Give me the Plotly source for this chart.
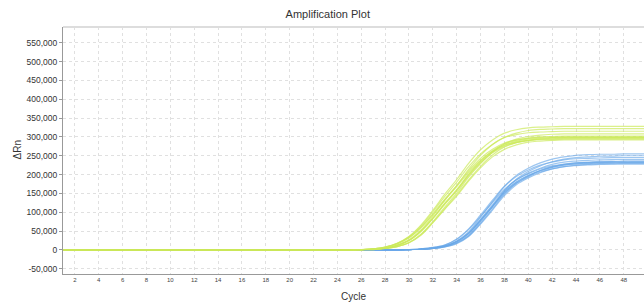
import plotly.graph_objects as go

cycles = list(range(1, 51))

green_1 = [0, 0, 0, 0, 0, 0, 0, 0, 0, 0, 0, 0, 0, 0, 0, 0, 0, 0, 0, 0, 0, 0, 0, 0, 0,
           1000, 3000, 8000, 18000, 36000, 66000, 105000, 148000, 187000, 230000, 266000, 292000, 310000, 319000, 324000, 326000, 327000,
           328000, 328000, 328000, 328000, 328000, 328000, 328000, 328000]
green_2 = [0, 0, 0, 0, 0, 0, 0, 0, 0, 0, 0, 0, 0, 0, 0, 0, 0, 0, 0, 0, 0, 0, 0, 0, 0,
           1000, 2000, 5000, 13000, 27000, 53000, 90000, 132000, 171000, 214000, 251000, 280000, 299000, 310000, 317000, 320000, 321000,
           322000, 322000, 322000, 322000, 322000, 322000, 322000, 322000]
green_3 = [0, 0, 0, 0, 0, 0, 0, 0, 0, 0, 0, 0, 0, 0, 0, 0, 0, 0, 0, 0, 0, 0, 0, 0, 0,
           1000, 3000, 8000, 17000, 35000, 63000, 101000, 142000, 180000, 221000, 255000, 280000, 298000, 306000, 311000, 313000, 314000,
           315000, 315000, 315000, 315000, 315000, 315000, 315000, 315000]
green_4 = [0, 0, 0, 0, 0, 0, 0, 0, 0, 0, 0, 0, 0, 0, 0, 0, 0, 0, 0, 0, 0, 0, 0, 0, 0,
           1000, 2000, 4000, 9000, 20000, 42000, 75000, 114000, 151000, 193000, 229000, 260000, 282000, 294000, 301000, 305000, 307000,
           308000, 308000, 308000, 308000, 308000, 308000, 308000, 308000]
green_5 = [0, 0, 0, 0, 0, 0, 0, 0, 0, 0, 0, 0, 0, 0, 0, 0, 0, 0, 0, 0, 0, 0, 0, 0, 0,
           1000, 2000, 5000, 12000, 25000, 50000, 85000, 124000, 160000, 201000, 236000, 263000, 281000, 291000, 297000, 300000, 301000,
           302000, 302000, 302000, 302000, 302000, 302000, 302000, 302000]
green_6 = [0, 0, 0, 0, 0, 0, 0, 0, 0, 0, 0, 0, 0, 0, 0, 0, 0, 0, 0, 0, 0, 0, 0, 0, 0,
           1000, 3000, 7000, 17000, 33000, 60000, 96000, 135000, 171000, 210000, 243000, 267000, 284000, 292000, 296000, 299000, 299000,
           300000, 300000, 300000, 300000, 300000, 300000, 300000, 300000]
green_7 = [0, 0, 0, 0, 0, 0, 0, 0, 0, 0, 0, 0, 0, 0, 0, 0, 0, 0, 0, 0, 0, 0, 0, 0, 0,
           1000, 1000, 4000, 9000, 19000, 40000, 73000, 110000, 146000, 186000, 222000, 252000, 273000, 285000, 291000, 295000, 297000,
           298000, 298000, 298000, 298000, 298000, 298000, 298000, 298000]
green_8 = [0, 0, 0, 0, 0, 0, 0, 0, 0, 0, 0, 0, 0, 0, 0, 0, 0, 0, 0, 0, 0, 0, 0, 0, 0,
           1000, 2000, 5000, 12000, 25000, 49000, 83000, 121000, 157000, 197000, 231000, 258000, 275000, 285000, 291000, 294000, 295000,
           296000, 296000, 296000, 296000, 296000, 296000, 296000, 296000]
green_9 = [0, 0, 0, 0, 0, 0, 0, 0, 0, 0, 0, 0, 0, 0, 0, 0, 0, 0, 0, 0, 0, 0, 0, 0, 0,
           1000, 3000, 7000, 16000, 32000, 59000, 94000, 132000, 168000, 206000, 238000, 262000, 278000, 286000, 290000, 293000, 293000,
           294000, 294000, 294000, 294000, 294000, 294000, 294000, 294000]
green_10 = [0, 0, 0, 0, 0, 0, 0, 0, 0, 0, 0, 0, 0, 0, 0, 0, 0, 0, 0, 0, 0, 0, 0, 0, 0,
            1000, 1000, 4000, 9000, 19000, 39000, 72000, 108000, 143000, 183000, 218000, 247000, 267000, 279000, 286000, 289000, 291000,
            292000, 292000, 292000, 292000, 292000, 292000, 292000, 292000]
green_11 = [0, 0, 0, 0, 0, 0, 0, 0, 0, 0, 0, 0, 0, 0, 0, 0, 0, 0, 0, 0, 0, 0, 0, 0, 0,
            1000, 2000, 5000, 12000, 25000, 50000, 84000, 123000, 158000, 199000, 233000, 260000, 278000, 288000, 294000, 297000, 298000,
            299000, 299000, 299000, 299000, 299000, 299000, 299000, 299000]

blue_1 = [0, 0, 0, 0, 0, 0, 0, 0, 0, 0, 0, 0, 0, 0, 0, 0, 0, 0, 0, 0, 0, 0, 0, 0, 0, 0, 0, 0, 0,
          1000, 2000, 5000, 11000, 24000, 48000, 87000, 128000, 168000, 198000, 217000, 231000, 241000, 247000, 251000, 253000, 254000, 254000, 255000, 255000, 255000]
blue_2 = [0, 0, 0, 0, 0, 0, 0, 0, 0, 0, 0, 0, 0, 0, 0, 0, 0, 0, 0, 0, 0, 0, 0, 0, 0, 0, 0, 0, 0,
          1000, 2000, 4000, 9000, 19000, 39000, 75000, 115000, 156000, 188000, 208000, 223000, 234000, 241000, 245000, 247000, 249000, 249000, 250000, 250000, 250000]
blue_3 = [0, 0, 0, 0, 0, 0, 0, 0, 0, 0, 0, 0, 0, 0, 0, 0, 0, 0, 0, 0, 0, 0, 0, 0, 0, 0, 0, 0, 0,
          1000, 3000, 7000, 13000, 29000, 56000, 93000, 132000, 169000, 195000, 212000, 225000, 233000, 239000, 242000, 243000, 244000, 245000, 245000, 245000, 245000]
blue_4 = [0, 0, 0, 0, 0, 0, 0, 0, 0, 0, 0, 0, 0, 0, 0, 0, 0, 0, 0, 0, 0, 0, 0, 0, 0, 0, 0, 0, 0,
          1000, 2000, 5000, 10000, 23000, 46000, 82000, 120000, 158000, 186000, 204000, 217000, 227000, 233000, 236000, 238000, 239000, 240000, 240000, 240000, 240000]
blue_5 = [0, 0, 0, 0, 0, 0, 0, 0, 0, 0, 0, 0, 0, 0, 0, 0, 0, 0, 0, 0, 0, 0, 0, 0, 0, 0, 0, 0, 0,
          1000, 2000, 4000, 8000, 18000, 37000, 71000, 109000, 148000, 177000, 196000, 211000, 221000, 227000, 231000, 233000, 235000, 235000, 236000, 236000, 236000]
blue_6 = [0, 0, 0, 0, 0, 0, 0, 0, 0, 0, 0, 0, 0, 0, 0, 0, 0, 0, 0, 0, 0, 0, 0, 0, 0, 0, 0, 0, 0,
          1000, 3000, 6000, 13000, 28000, 54000, 89000, 126000, 161000, 186000, 202000, 215000, 223000, 228000, 231000, 232000, 233000, 234000, 234000, 234000, 234000]
blue_7 = [0, 0, 0, 0, 0, 0, 0, 0, 0, 0, 0, 0, 0, 0, 0, 0, 0, 0, 0, 0, 0, 0, 0, 0, 0, 0, 0, 0, 0,
          1000, 2000, 5000, 10000, 22000, 44000, 79000, 116000, 153000, 180000, 197000, 210000, 219000, 225000, 228000, 230000, 231000, 232000, 232000, 232000, 232000]
blue_8 = [0, 0, 0, 0, 0, 0, 0, 0, 0, 0, 0, 0, 0, 0, 0, 0, 0, 0, 0, 0, 0, 0, 0, 0, 0, 0, 0, 0, 0,
          1000, 2000, 4000, 8000, 17000, 36000, 69000, 106000, 144000, 173000, 191000, 205000, 215000, 221000, 225000, 227000, 229000, 229000, 230000, 230000, 230000]
blue_9 = [0, 0, 0, 0, 0, 0, 0, 0, 0, 0, 0, 0, 0, 0, 0, 0, 0, 0, 0, 0, 0, 0, 0, 0, 0, 0, 0, 0, 0,
          1000, 2000, 5000, 10000, 21000, 43000, 78000, 114000, 150000, 177000, 194000, 207000, 215000, 221000, 224000, 226000, 227000, 228000, 228000, 228000, 228000]
blue_10 = [0, 0, 0, 0, 0, 0, 0, 0, 0, 0, 0, 0, 0, 0, 0, 0, 0, 0, 0, 0, 0, 0, 0, 0, 0, 0, 0, 0, 0,
           1000, 2000, 5000, 10000, 22000, 44000, 79000, 117000, 154000, 181000, 198000, 211000, 220000, 226000, 229000, 231000, 232000, 233000, 233000, 233000, 233000]

green_curves = [green_1, green_2, green_3, green_4, green_5, green_6,
                green_7, green_8, green_9, green_10, green_11]
blue_curves = [blue_1, blue_2, blue_3, blue_4, blue_5, blue_6,
               blue_7, blue_8, blue_9, blue_10]

x_tick_vals = list(range(2, 50, 2))
x_tick_text = [str(v) for v in x_tick_vals]
y_tick_vals = [-50000, 0, 50000, 100000, 150000, 200000, 250000, 300000,
               350000, 400000, 450000, 500000, 550000]
y_tick_text = ["-50,000", "0", "50,000", "100,000", "150,000", "200,000",
               "250,000", "300,000", "350,000", "400,000", "450,000",
               "500,000", "550,000"]

GREEN = "rgba(204,234,90,0.7)"
BLUE = "rgba(105,168,232,0.65)"

fig = go.Figure()
for ys in blue_curves:
    fig.add_trace(go.Scatter(x=cycles, y=ys, mode="lines",
                             line=dict(color=BLUE, width=1.2, shape="spline"),
                             hoverinfo="skip"))
for ys in green_curves:
    fig.add_trace(go.Scatter(x=cycles, y=ys, mode="lines",
                             line=dict(color=GREEN, width=1.2, shape="spline"),
                             hoverinfo="skip"))

font_family = "Liberation Sans, Arial, sans-serif"

fig.update_layout(
    width=644, height=303,
    margin=dict(l=63, r=0, t=27, b=29),
    paper_bgcolor="white", plot_bgcolor="white",
    showlegend=False,
    hovermode=False,
    font=dict(family=font_family, color="#333333"),
    title=dict(text="Amplification Plot", x=0.509, xanchor="center",
               y=1 - 14 / 303, yanchor="middle",
               font=dict(size=11, color="#333333", family=font_family)),
    xaxis=dict(
        range=[1, 49.7], tickmode="array", tickvals=x_tick_vals, ticktext=x_tick_text,
        tickfont=dict(size=6, color="#444444"),
        showgrid=True, gridcolor="#e0e0e0", griddash="dot", gridwidth=1,
        showline=True, linecolor="#999999", linewidth=1,
        ticks="", zeroline=False, automargin=False,
        title=dict(text=""),
    ),
    yaxis=dict(
        range=[-63700, 591600], tickmode="array", tickvals=y_tick_vals, ticktext=y_tick_text,
        tickfont=dict(size=8.5, color="#333333"),
        showgrid=True, gridcolor="#e0e0e0", griddash="dot", gridwidth=1,
        showline=True, linecolor="#999999", linewidth=1,
        ticks="outside", ticklen=3, tickcolor="#999999",
        zeroline=False, automargin=False,
        title=dict(text=""),
    ),
)

fig.add_annotation(text="Cycle", xref="paper", yref="paper", x=0.5, y=-22 / 247,
                   xanchor="center", yanchor="middle", showarrow=False,
                   font=dict(size=10, color="#333333", family=font_family))
fig.add_annotation(text="ΔRn", xref="paper", yref="paper", x=-46 / 581, y=0.5,
                   xanchor="center", yanchor="middle", showarrow=False, textangle=-90,
                   font=dict(size=10, color="#333333", family=font_family))

fig.add_shape(type="line", xref="paper", yref="paper", x0=0, x1=1, y0=1, y1=1,
              line=dict(color="#dddddd", width=2))

fig.write_html("out.html", config={"displayModeBar": False},
               post_script="document.body.style.margin='0';document.body.style.overflow='hidden';")
